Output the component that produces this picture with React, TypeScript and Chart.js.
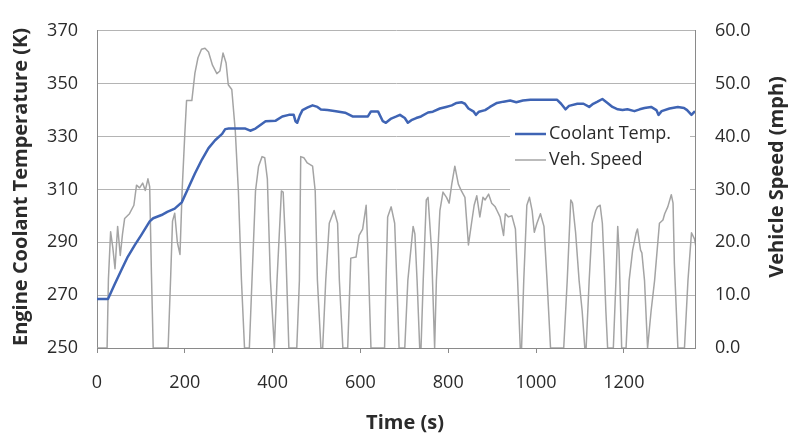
import React, { useEffect, useRef } from "react";
import { Chart, registerables } from "chart.js";

Chart.register(...registerables);

// ---- data ----
const tempTime = [0, 25, 40, 55, 70, 86, 100, 120, 128, 147, 160, 177, 193, 208, 223, 239, 254, 269, 285, 292, 300, 338, 349, 361, 384, 407, 422, 437, 448, 452, 456, 462, 468, 480, 491, 502, 510, 525, 544, 565, 582, 600, 617, 624, 640, 651, 658, 670, 682, 690, 701, 708, 716, 727, 738, 754, 765, 781, 795, 808, 819, 830, 838, 846, 858, 863, 870, 884, 895, 911, 926, 941, 955, 970, 987, 1048, 1057, 1067, 1075, 1094, 1108, 1121, 1130, 1140, 1151, 1162, 1174, 1186, 1197, 1208, 1224, 1236, 1247, 1262, 1274, 1279, 1286, 1304, 1323, 1337, 1344, 1354, 1362, 1369];
const tempK = [268.5, 268.5, 274, 279.3, 284.5, 288.9, 292.5, 297.9, 299.1, 300.3, 301.5, 302.7, 305.1, 310.5, 316, 321.3, 325.6, 328.6, 331, 332.8, 333, 333, 332.2, 333, 335.8, 336, 337.6, 338.2, 338.2, 335.8, 335.2, 338, 340, 341, 341.8, 341.2, 340.2, 340, 339.6, 339, 337.6, 337.6, 337.6, 339.5, 339.5, 335.8, 335.2, 336.8, 337.6, 338.2, 337, 335.2, 336.2, 337, 337.6, 339.1, 339.4, 340.6, 341.2, 341.8, 342.7, 343, 342.4, 340.6, 339.4, 338.2, 339.4, 340, 341.2, 342.7, 343.2, 343.6, 343, 343.6, 343.9, 343.9, 342.4, 340.3, 341.6, 342.4, 342.4, 341.2, 342.4, 343.2, 344.2, 342.8, 341.2, 340.3, 340, 340.3, 339.6, 340.3, 340.8, 341.2, 340, 338.2, 339.6, 340.6, 341.2, 340.8, 340, 338.2, 339.6, 339.2];

const speedTime = [0, 23, 26, 31, 36, 41, 47, 53, 58, 63, 74, 84, 90, 97, 104, 110, 116, 120, 124, 128, 162, 168, 172, 177, 183, 189, 194, 200, 204, 216, 223, 230, 238, 246, 254, 263, 273, 280, 287, 294, 299, 307, 315, 322, 329, 336, 347, 353, 361, 368, 376, 382, 388, 395, 404, 410, 420, 424, 430, 437, 455, 461, 464, 471, 479, 491, 497, 502, 510, 514, 521, 529, 540, 548, 552, 560, 571, 578, 590, 597, 605, 613, 617, 624, 655, 658, 662, 670, 678, 684, 688, 701, 708, 720, 724, 729, 735, 738, 743, 750, 754, 762, 769, 773, 781, 788, 796, 802, 808, 815, 823, 830, 838, 846, 853, 859, 865, 872, 879, 884, 892, 899, 907, 911, 918, 926, 930, 937, 945, 953, 958, 964, 967, 972, 979, 985, 991, 996, 1002, 1010, 1018, 1025, 1033, 1063, 1071, 1079, 1083, 1090, 1098, 1105, 1111, 1114, 1121, 1128, 1136, 1140, 1146, 1151, 1155, 1159, 1163, 1176, 1182, 1186, 1189, 1195, 1205, 1212, 1220, 1228, 1231, 1238, 1241, 1247, 1254, 1262, 1270, 1281, 1289, 1293, 1300, 1308, 1312, 1315, 1323, 1338, 1346, 1354, 1361, 1367];
const speedMph = [0, 0, 13, 22, 19, 15, 23, 17.5, 21.5, 24.5, 25.4, 27, 30.8, 30.3, 31.2, 29.8, 32, 30.5, 14, 0, 0, 14, 24, 25.5, 20, 17.7, 30, 40.5, 46.8, 46.8, 52, 54.9, 56.5, 56.7, 56, 53.5, 51.9, 52.4, 55.8, 53.9, 49.8, 48.9, 41, 29.7, 12.8, 0, 0, 12.8, 29.7, 34.4, 36.2, 36, 32, 12.8, 0, 12.8, 29.7, 29.5, 18.5, 0, 0, 12.8, 36.2, 36, 35, 34.4, 29.7, 12.8, 0, 0, 12.8, 23.6, 26, 23.6, 12.8, 0, 0, 17, 17.2, 21.3, 22.5, 27, 18.5, 0, 0, 12, 24.8, 26.7, 23.6, 10, 0, 0, 12.8, 23, 21.6, 12.8, 0, 0, 12.8, 28, 28.5, 18.5, 0, 12.8, 26, 29.5, 28.5, 27.4, 31, 34.4, 31, 29.7, 28.5, 19.5, 23.6, 27, 28.8, 24.8, 28.5, 28, 29.1, 27.4, 26.7, 26, 24.8, 21.3, 25.4, 24.8, 25, 22.5, 12.8, 0, 0, 12.8, 27, 28.5, 26, 21.9, 23.6, 25.4, 23, 12.8, 0, 0, 12.8, 28, 27.4, 21.9, 12.8, 7, 0, 0, 12.8, 23.6, 26, 26.7, 27, 23.6, 16, 7, 0, 0, 12.8, 23, 18.5, 0, 0, 12.8, 18.5, 21.8, 22.5, 18.5, 18, 12.8, 0, 7, 12.8, 23.6, 24.2, 25.4, 26.7, 29, 27.4, 16, 0, 0, 12.8, 21.8, 20.6, 17.7];

const xTicks = [0, 200, 400, 600, 800, 1000, 1200];
const leftTicks = [250, 270, 290, 310, 330, 350, 370];
const rightTicks = [0, 10, 20, 30, 40, 50, 60];

const seriesNames = ["Coolant Temp.", "Veh. Speed"];
const axisTitles = ["Engine Coolant Temperature (K)", "Vehicle Speed (mph)", "Time (s)"];

const FONT = '"Open Sans", "DejaVu Sans", sans-serif';
const TEMP_COLOR = "#3f64b4";
const SPEED_COLOR = "#a4a4a4";
const TEXT_COLOR = "#2b2b2b";
const AXIS_COLOR = "#8a8a8a";

const overlayPlugin = {
  id: "overlay",
  afterDraw(chart: any) {
    const ctx = chart.ctx;
    const area = chart.chartArea;
    ctx.save();
    // axis titles
    ctx.fillStyle = TEXT_COLOR;
    ctx.font = `bold 20px ${FONT}`;
    ctx.textAlign = "center";
    ctx.textBaseline = "middle";
    ctx.save();
    ctx.translate(21, 187);
    ctx.rotate(-Math.PI / 2);
    ctx.fillText(axisTitles[0], 0, 0);
    ctx.restore();
    ctx.save();
    ctx.translate(777, 177);
    ctx.rotate(-Math.PI / 2);
    ctx.fillText(axisTitles[1], 0, 0);
    ctx.restore();
    ctx.fillText(axisTitles[2], 405, 423);

    // legend inside plot area
    const lx = area.left + 413;
    const ly = area.top + 103;
    ctx.fillStyle = "#ffffff";
    ctx.fillRect(lx, ly, 180, 60);
    const rows = [
      { name: seriesNames[0], color: TEMP_COLOR, width: 2.5, y: 134 },
      { name: seriesNames[1], color: SPEED_COLOR, width: 1.5, y: 160 },
    ];
    ctx.font = `18px ${FONT}`;
    ctx.textAlign = "left";
    for (const r of rows) {
      ctx.strokeStyle = r.color;
      ctx.lineWidth = r.width;
      ctx.beginPath();
      ctx.moveTo(515, r.y);
      ctx.lineTo(546, r.y);
      ctx.stroke();
      ctx.fillStyle = TEXT_COLOR;
      ctx.fillText(r.name, 549, r.y);
    }
    ctx.restore();
  },
};

export default function App() {
  const canvasRef = useRef<HTMLCanvasElement | null>(null);

  useEffect(() => {
    const canvas = canvasRef.current;
    if (!canvas) return;
    const chart = new Chart(canvas, {
      type: "line",
      data: {
        datasets: [
          {
            label: seriesNames[0],
            data: tempTime.map((t, i) => ({ x: t, y: tempK[i] })),
            borderColor: TEMP_COLOR,
            borderWidth: 2.5,
            pointRadius: 0,
            tension: 0,
            yAxisID: "y",
            borderJoinStyle: "round",
          },
          {
            label: seriesNames[1],
            data: speedTime.map((t, i) => ({ x: t, y: speedMph[i] })),
            borderColor: SPEED_COLOR,
            borderWidth: 1.5,
            pointRadius: 0,
            tension: 0,
            yAxisID: "y1",
            borderJoinStyle: "round",
          },
        ],
      },
      options: {
        responsive: false,
        animation: false,
        events: [],
        layout: { padding: { top: 15, left: 0, right: 0, bottom: 0 } },
        plugins: { legend: { display: false }, tooltip: { enabled: false } },
        scales: {
          x: {
            type: "linear",
            min: 0,
            max: 1362,
            afterBuildTicks: (s: any) => {
              s.ticks = xTicks.map((v) => ({ value: v }));
            },
            afterFit: (s: any) => {
              s.height = 88;
            },
            ticks: {
              font: { family: FONT, size: 18 },
              color: TEXT_COLOR,
              padding: 19,
              maxRotation: 0,
              callback: (v: any) => String(v),
            },
            grid: {
              drawOnChartArea: false,
              drawTicks: true,
              tickLength: 5,
              color: AXIS_COLOR,
            },
            border: { display: true, color: AXIS_COLOR, width: 1 },
          },
          y: {
            type: "linear",
            position: "left",
            min: 250,
            max: 370,
            afterBuildTicks: (s: any) => {
              s.ticks = leftTicks.map((v) => ({ value: v }));
            },
            afterFit: (s: any) => {
              s.width = 97;
            },
            ticks: {
              font: { family: FONT, size: 18 },
              color: TEXT_COLOR,
              padding: 19,
              callback: (v: any) => String(v),
            },
            grid: { color: "#b4b4b4", drawTicks: false },
            border: { display: true, color: AXIS_COLOR, width: 1 },
          },
          y1: {
            type: "linear",
            position: "right",
            min: 0,
            max: 60,
            afterBuildTicks: (s: any) => {
              s.ticks = rightTicks.map((v) => ({ value: v }));
            },
            afterFit: (s: any) => {
              s.width = 93;
            },
            ticks: {
              font: { family: FONT, size: 18 },
              color: TEXT_COLOR,
              padding: 20,
              callback: (v: any) => Number(v).toFixed(1),
            },
            grid: { drawOnChartArea: false, drawTicks: false, color: AXIS_COLOR },
            border: { display: true, color: AXIS_COLOR, width: 1 },
          },
        },
      },
      plugins: [overlayPlugin],
    });
    return () => chart.destroy();
  }, []);

  return (
    <div style={{ position: "absolute", left: 0, top: 0, width: 788, height: 436, background: "#ffffff" }}>
      <canvas ref={canvasRef} width={788} height={436} style={{ display: "block" }} />
    </div>
  );
}
